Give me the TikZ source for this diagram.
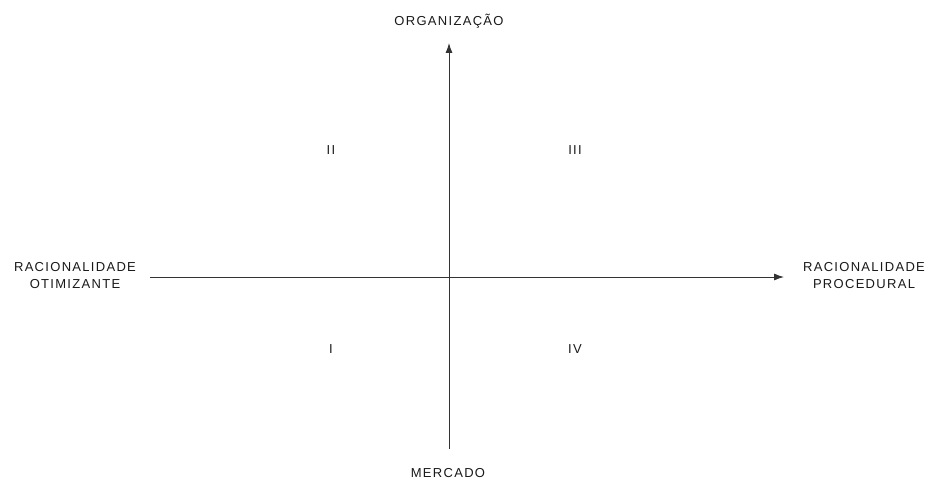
\documentclass[tikz,border=0pt]{standalone}
\usepackage{fontspec}
\setmainfont{Liberation Sans}[LetterSpace=10]
\usetikzlibrary{arrows.meta}
\begin{document}
\begin{tikzpicture}[x=1pt,y=-1pt,
  lbl/.style={font=\fontsize{13}{17}\selectfont, align=center, inner sep=0pt, text=black!90},
  axis/.style={line width=0.9pt, draw=black!80, -{Latex[length=10pt,width=7pt]}}]
\useasboundingbox (0,0) rectangle (928,481);
\coordinate (hl) at (150,277);
\coordinate (hr) at (784,277);
\coordinate (vb) at (449,449);
\coordinate (vt) at (449,43);
\draw[axis] (hl) -- (hr);
\draw[axis] (vb) -- (vt);
\node[lbl] (org) at (449,21) {ORGANIZAÇÃO};
\node[lbl] (mer) at (448,473) {MERCADO};
\node[lbl] (otm) at (75,276) {RACIONALIDADE\\OTIMIZANTE};
\node[lbl] (pro) at (864,276) {RACIONALIDADE\\PROCEDURAL};
\node[lbl] (q2) at (331,150) {II};
\node[lbl] (q3) at (575,150) {III};
\node[lbl] (q1) at (331,349) {I};
\node[lbl] (q4) at (575,349) {IV};
\end{tikzpicture}
\end{document}
